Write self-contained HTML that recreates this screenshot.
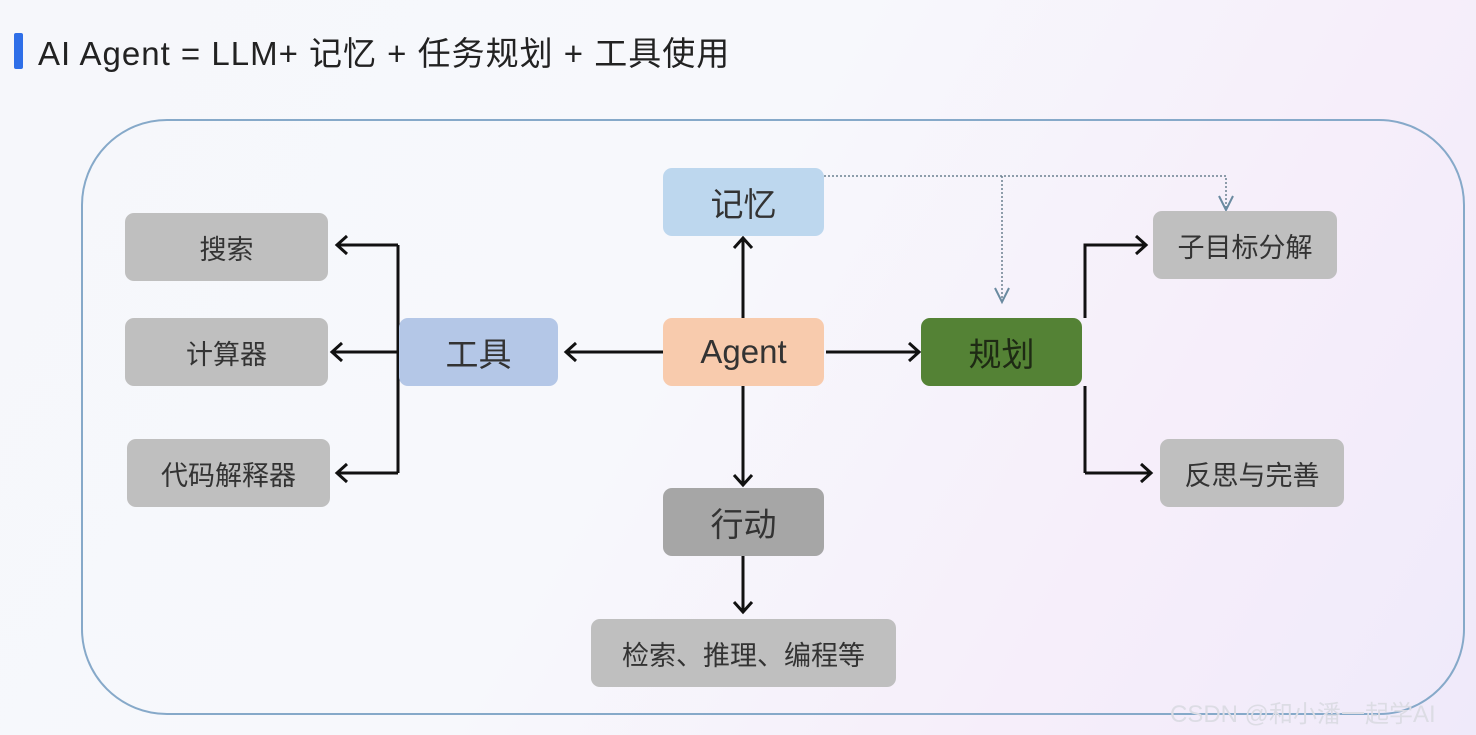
<!DOCTYPE html>
<html><head><meta charset="utf-8"><style>
html,body{margin:0;padding:0}
body{width:1476px;height:735px;position:relative;overflow:hidden;
background:linear-gradient(120deg,#f6f7fb 0%,#f7f8fc 45%,#f6eefa 75%,#efeafa 100%);
font-family:"Liberation Sans","Noto Sans CJK SC",sans-serif;}
.b{position:absolute;border-radius:9px;display:flex;align-items:center;justify-content:center;color:#333;font-size:27px}
.g{background:#bfbfbf;font-size:27px}
</style></head><body>
<div style="position:absolute;left:14px;top:33px;width:9px;height:36px;background:#2f6fe8;border-radius:2px"></div>
<div style="position:absolute;left:38px;top:32px;font-size:33px;letter-spacing:1px;color:#222;white-space:nowrap;line-height:44px">AI Agent = LLM+ 记忆 + 任务规划 + 工具使用</div>
<svg width="1476" height="735" style="position:absolute;left:0;top:0">
<rect x="82" y="120" width="1382" height="594" rx="85" fill="none" stroke="#86a9c9" stroke-width="2"/>
<g stroke="#111" stroke-width="3" fill="none">
<path d="M398 245V473M398 245H337M398 352H332M398 473H337M398 352H400"/>
<path d="M347 236L337 245L347 254M342 343L332 352L342 361M347 464L337 473L347 482"/>
<path d="M663 352H566M576 343L566 352L576 361"/>
<path d="M743 318V238M734 248L743 238L752 248"/>
<path d="M743 386V485M734 475L743 485L752 475"/>
<path d="M743 556V612M734 602L743 612L752 602"/>
<path d="M826 352H919M909 343L919 352L909 361"/>
<path d="M1085 386V473M1085 318V245H1146M1085 473H1151M1136 236L1146 245L1136 254M1141 464L1151 473L1141 482"/>
</g>
<g stroke="#6a8090" stroke-width="1.5" fill="none" stroke-dasharray="2 2">
<path d="M824 176H1226V208M1002 176V300"/>
</g>
<g stroke="#6a8aa0" stroke-width="2" fill="none">
<path d="M1219 196L1226 210L1233 196M995 288L1002 302L1009 288"/>
</g>
</svg>
<div class="b" style="left:663px;top:168px;width:161px;height:68px;background:#bdd7ee;font-size:33px">记忆</div>
<div class="b" style="left:663px;top:318px;width:161px;height:68px;background:#f8cbad;font-size:33px">Agent</div>
<div class="b" style="left:399px;top:318px;width:159px;height:68px;background:#b4c7e7;font-size:33px">工具</div>
<div class="b" style="left:921px;top:318px;width:161px;height:68px;background:#548235;font-size:33px;color:#1e2a14">规划</div>
<div class="b" style="left:663px;top:488px;width:161px;height:68px;background:#a6a6a6;font-size:33px">行动</div>
<div class="b g" style="left:125px;top:213px;width:203px;height:68px">搜索</div>
<div class="b g" style="left:125px;top:318px;width:203px;height:68px">计算器</div>
<div class="b g" style="left:127px;top:439px;width:203px;height:68px">代码解释器</div>
<div class="b g" style="left:1153px;top:211px;width:184px;height:68px">子目标分解</div>
<div class="b g" style="left:1160px;top:439px;width:184px;height:68px">反思与完善</div>
<div class="b g" style="left:591px;top:619px;width:305px;height:68px">检索、推理、编程等</div>
<div style="position:absolute;left:1170px;top:694px;font-size:24px;color:#dcdce4;white-space:nowrap">CSDN @和小潘一起学AI</div>
</body></html>
